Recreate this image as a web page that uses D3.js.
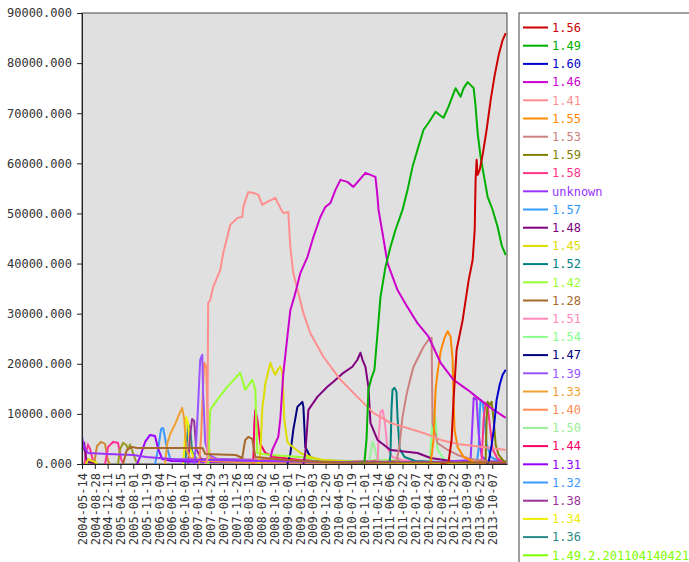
<!DOCTYPE html>
<html>
<head>
<meta charset="utf-8">
<script src="https://cdn.jsdelivr.net/npm/d3@7"></script>
<style>
  body { margin: 0; background: #fff; }
  text { font-family: "DejaVu Sans Mono", monospace; }
</style>
</head>
<body>
<div class="chart"></div>
<script>

// x positions are in "tick periods" (0 = 2004-05-14, one unit per label)
const tickLabels = ["2004-05-14","2004-08-28","2004-12-11","2005-04-15","2005-08-01","2005-11-19",
  "2006-03-04","2006-06-17","2006-10-01","2007-01-14","2007-04-29","2007-08-13","2007-11-26",
  "2008-03-18","2008-07-02","2008-10-16","2009-02-01","2009-05-17","2009-09-03","2009-12-20",
  "2010-04-05","2010-07-19","2010-11-01","2011-02-14","2011-06-06","2011-09-22","2012-01-07",
  "2012-04-24","2012-08-09","2012-11-22","2013-03-09","2013-06-23","2013-10-07"];
const yTicks = [0,10000,20000,30000,40000,50000,60000,70000,80000,90000];

const legendNames = ["1.56","1.49","1.60","1.46","1.41","1.55","1.53","1.59","1.58","unknown",
  "1.57","1.48","1.45","1.52","1.42","1.28","1.51","1.54","1.47","1.39","1.33","1.40","1.50",
  "1.44","1.31","1.32","1.38","1.34","1.36","1.49.2.201104140421"];

const v156 = [[27.97,0],[28.59,400],[28.83,4800],[28.98,12800],[29.22,22800],[29.69,28700],[30.16,36700],
  [30.47,40700],[30.63,46700],[30.70,56700],[30.78,60700],[30.86,57700],[31.02,58700],[31.25,61700],
  [31.56,66700],[31.88,72700],[32.19,77600],[32.50,81600],[32.81,84600],[33.05,86000]];
const v149 = [[21.56,0],[22.03,400],[22.19,4800],[22.34,14800],[22.58,17200],[22.81,18800],[23.05,26100],
  [23.28,33300],[23.67,39300],[24.06,43300],[24.45,46700],[25.00,50700],[25.39,54700],[25.78,59300],
  [26.17,62700],[26.64,66700],[27.03,68100],[27.58,70300],[27.97,69500],[28.20,69100],[28.59,71300],
  [29.14,75000],[29.53,73300],[29.77,75000],[30.08,76200],[30.55,75000],[30.70,71300],[30.86,66100],
  [31.09,61300],[31.64,53300],[32.03,50700],[32.42,47300],[32.73,43700],[33.05,41700]];
const v160 = [[31.56,0],[31.72,400],[31.95,3800],[32.11,6800],[32.34,12800],[32.58,15800],[32.81,17800],[33.05,18800]];
const v146 = [[14.69,1000],[14.84,2800],[15.31,5400],[15.47,9000],[15.70,18000],[16.02,25400],[16.25,30700],
  [16.64,34100],[17.03,38100],[17.58,41300],[18.05,45300],[18.59,49300],[18.98,51300],[19.38,52100],
  [19.77,54700],[20.16,56700],[20.70,56300],[21.17,55300],[22.11,58100],[22.50,57700],[22.89,57300],
  [23.05,53300],[23.13,50700],[23.44,46100],[23.83,40100],[24.61,34700],[25.39,31300],[26.17,28100],
  [27.03,25400],[27.97,20200],[28.98,16800],[30.08,14800],[30.86,13200],[31.88,11200],[33.05,9200]];
const v141 = [[9.61,0],[9.77,800],[9.84,32100],[10.00,32700],[10.23,35300],[10.78,38700],[11.02,42100],
  [11.33,45300],[11.56,47700],[12.11,49100],[12.50,49300],[12.58,51300],[12.97,54300],[13.36,54100],
  [13.75,53700],[14.06,51700],[14.45,52300],[15.08,53100],[15.47,51100],[15.70,50100],[16.09,50300],
  [16.25,43300],[16.48,38100],[16.88,34100],[17.27,30100],[17.81,26100],[18.83,21400],[20.16,16800],
  [21.48,13400],[22.73,10200],[24.06,8200],[26.64,6200],[27.97,4800],[29.30,4000],[31.88,3200],[33.05,2800]];
const v155 = [[27.19,0],[27.42,4800],[27.58,14800],[27.73,18200],[27.97,22400],[28.28,25200],[28.52,26500],
  [28.75,25400],[28.91,20800],[28.98,12800],[29.06,6800],[29.30,3400],[29.77,1400],[30.55,400],[31.48,200]];
const v153 = [[24.38,0],[24.53,400],[24.77,3800],[25.00,9400],[25.31,13800],[25.63,17200],[25.86,19400],
  [26.25,21400],[26.64,23400],[27.03,24800],[27.27,25200],[27.34,8200],[27.73,4200],[28.52,2800],
  [29.30,1800],[30.31,1000],[31.88,400]];
const v159 = [[31.25,0],[31.48,800],[31.56,8800],[31.64,12400],[31.80,11800],[31.95,12400],[32.11,8800],
  [32.27,3800],[32.50,1800],[32.81,800],[33.05,400]];
const v158 = [[30.94,0],[31.17,600],[31.33,9000],[31.48,12200],[31.64,11600],[31.80,8000],[32.03,3000],
  [32.42,1000],[33.05,400]];
const vUnknown = [[0,5400],[0.16,3400],[0.47,2200],[2.0,2000],[4.0,1800],[5.0,1400],[7.0,1000],[10,800],
  [14,600],[20,400],[28,400],[30.31,800],[30.47,9000],[30.55,13200],[30.78,12800],[30.94,6000],
  [31.17,1600],[31.56,600],[33.05,400]];
const v157 = [[30.78,0],[30.94,3000],[31.02,10000],[31.09,12800],[31.25,12400],[31.40,9000],[31.56,4000],
  [31.88,1400],[32.50,600],[33.05,400]];
const v148 = [[17.27,0],[17.42,2200],[17.66,10800],[18.36,13400],[19.14,15400],[19.61,16400],[20.39,18200],
  [21.09,19400],[21.48,20800],[21.72,22200],[21.88,20800],[22.11,19400],[22.34,15400],[22.50,8200],
  [23.05,4800],[24.06,2800],[26.17,2200],[27.19,1200],[29.30,400],[33.05,200]];
const v145 = [[13.75,0],[13.91,2000],[14.06,11000],[14.30,16000],[14.69,20200],[14.92,18600],[15.08,17800],
  [15.31,19000],[15.47,19400],[15.63,18200],[15.78,8800],[16.02,4400],[16.25,3800],[17.03,2200],
  [18.05,1200],[18.83,800],[21.0,400],[25,200],[33.05,100]];
const v152 = [[23.98,0],[24.06,2000],[24.14,10800],[24.22,14800],[24.38,15200],[24.53,14400],[24.61,9400],
  [24.77,3000],[25.16,1400],[26.0,600],[28,400],[33.05,200]];
const v142 = [[9.84,0],[10.00,10800],[10.55,12800],[11.33,15400],[12.34,18200],[12.73,14800],[13.28,16800],
  [13.52,14800],[13.67,2200],[14.69,1800],[17.03,1400],[18.59,800],[22,400],[33.05,200]];
const v128 = [[3.20,0],[3.50,2800],[3.90,3400],[4.30,3200],[9.40,3200],[9.60,2000],[12.0,1800],[12.5,1200],
  [12.73,4800],[12.97,5400],[13.28,5000],[13.52,1400],[16.0,800],[17.0,600],[20,300],[33.05,300]];
const v151 = [[23.05,0],[23.13,5000],[23.28,10400],[23.44,10800],[23.60,8800],[23.83,3000],[24.22,1400],
  [25,800],[27,400],[33.05,200]];
const v154 = [[27.11,0],[27.27,6000],[27.42,10800],[27.58,8800],[27.73,3000],[28.2,1000],[29,400],[33.05,200]];
const v147 = [[16.02,0],[16.25,2000],[16.48,6800],[16.80,11400],[17.19,12400],[17.27,11400],[17.42,3400],
  [17.81,1400],[18.83,400],[33.05,100]];
const v139 = [[8.75,0],[8.91,4400],[9.06,12000],[9.22,20800],[9.38,21800],[9.45,14000],[9.61,4400],
  [9.84,2000],[10.5,1000],[14,600],[33.05,200]];
const v133 = [[6.48,0],[6.64,4000],[6.88,6000],[7.27,8000],[7.66,10400],[7.81,11200],[7.97,9000],
  [8.13,3000],[8.44,1200],[9.5,600],[13,300],[33.05,200]];
const v140 = [[9.14,0],[9.30,6000],[9.45,16000],[9.53,20200],[9.69,19400],[9.77,12000],[9.84,4000],
  [10.0,1400],[11,800],[33.05,200]];
const v150 = [[22.34,0],[22.50,2000],[22.66,4400],[22.81,3400],[23.05,1000],[24,400],[33.05,200]];
const v144 = [[13.36,0],[13.44,8000],[13.52,10800],[13.67,9000],[13.91,4000],[14.30,2200],[15,1400],
  [17,800],[20,400],[33.05,200]];
const v131 = [[4.30,0],[4.53,1400],[4.92,4400],[5.31,5800],[5.70,5600],[5.94,3000],[6.25,1000],[7.0,600],
  [10,400],[33.05,200]];
const v132 = [[5.70,0],[5.94,3000],[6.17,7000],[6.33,7200],[6.56,4000],[6.88,1000],[8,600],[12,400],[33.05,200]];
const v138 = [[8.28,0],[8.44,6000],[8.59,9000],[8.75,8600],[8.91,3000],[9.3,1000],[33.05,200]];
const v134 = [[7.89,0],[8.05,6000],[8.13,9400],[8.28,8000],[8.44,3000],[8.75,1000],[10,400],[33.05,200]];
const v136 = [[8.05,0],[8.20,5000],[8.28,7800],[8.44,7200],[8.59,2400],[9.0,800],[33.05,200]];
const v1492 = [[21.5,0],[22.0,400],[23.0,800],[25,600],[28,300],[33.05,200]];

// older series that are drawn but not listed in the legend
const vOldA = [[0.2,0],[0.31,2400],[0.47,3800],[0.63,3000],[0.86,600],[1.0,0]];
const vOldB = [[0.94,0],[1.17,3600],[1.48,4400],[1.80,4000],[2.03,600],[2.2,0]];
const vOldC = [[1.8,0],[2.03,3400],[2.42,4400],[2.81,4200],[3.05,1000],[3.2,200]];
const vOldD = [[2.81,0],[2.97,3000],[3.20,4200],[3.45,3800],[3.59,3000],[3.75,3800],[3.98,2200],[4.2,600],[4.5,0]];
const vOldE = [[0,2400],[0.16,4400],[0.31,1200],[0.5,400],[1.0,200]];
const vOldF = [[0.3,0],[0.5,1000],[0.8,600],[1.2,200]];

const legendValues = [v156,v149,v160,v146,v141,v155,v153,v159,v158,vUnknown,v157,v148,v145,v152,v142,
  v128,v151,v154,v147,v139,v133,v140,v150,v144,v131,v132,v138,v134,v136,v1492];
const legendColors = ["#cc0000","#00b000","#0000cc","#cc00cc","#ff8f8f","#ff8800","#cc8080","#808000",
  "#ff3388","#9933ff","#3399ff","#800080","#dddd00","#008080","#99ff33","#a8682a","#ff88bb","#88ff88",
  "#000080","#9955ff","#f0a030","#ff8c55","#99ee99","#ff0066","#9900ff","#3d99ff","#993399","#eeee00",
  "#2a8a8a","#80ff00"];
const oldValues = [vOldA, vOldB, vOldC, vOldD, vOldE, vOldF];
const oldColors = ["#ff3399","#cc8833","#ff3399","#999922","#800080","#dddd00"];

const margin = ({top: 13, left: 82});
const w = 425, h = 451;

const svg = d3.select(".chart")
  .append("svg")
  .attr("width", 689)
  .attr("height", 562);

const g = svg.append("g")
  .attr("transform", `translate(${margin.left},${margin.top})`);

const xScale = d3.scaleLinear().domain([0, 33.15]).range([0, w]);
const yScale = d3.scaleLinear().domain([0, 90000]).range([h, 0]);

// plot background
g.append("rect")
  .attr("width", w)
  .attr("height", h)
  .attr("fill", "#e0e0e0")
  .attr("stroke", "#444");

g.append("clipPath").attr("id", "clip")
  .append("rect").attr("width", w).attr("height", h);

const line = d3.line()
  .x(d => xScale(d[0]))
  .y(d => yScale(d[1]));

const lines = g.append("g").attr("clip-path", "url(#clip)");

oldValues.forEach((vals, i) => {
  lines.append("path")
    .datum(vals)
    .attr("fill", "none")
    .attr("stroke", oldColors[i])
    .attr("stroke-width", 2)
    .attr("d", line);
});

// draw oldest entries first, newest on top; 1.28 keeps its baseline visible
const order = d3.range(legendNames.length).reverse().filter(i => legendNames[i] !== "1.28");
order.push(legendNames.indexOf("1.28"));
order.forEach(i => {
  lines.append("path")
    .datum(legendValues[i])
    .attr("fill", "none")
    .attr("stroke", legendColors[i])
    .attr("stroke-width", 2)
    .attr("stroke-linejoin", "round")
    .attr("d", line);
});

// axes
const yAxis = d3.axisLeft(yScale)
  .tickValues(yTicks)
  .tickFormat(d3.format(".3f"))
  .tickSize(5)
  .tickSizeOuter(0);

g.append("g")
  .attr("class", "axis y-axis")
  .call(yAxis)
  .call(ax => ax.selectAll("text").attr("font-size", 12).attr("fill", "#333").attr("x", -10))
  .call(ax => ax.selectAll("line, path").attr("stroke", "#222"));

const xAxis = d3.axisBottom(xScale)
  .tickValues(d3.range(tickLabels.length))
  .tickFormat(i => tickLabels[i])
  .tickSize(5)
  .tickSizeOuter(0);

g.append("g")
  .attr("class", "axis x-axis")
  .attr("transform", `translate(0,${h})`)
  .call(xAxis)
  .call(ax => ax.selectAll("line, path").attr("stroke", "#222"))
  .selectAll("text")
    .attr("font-size", 12)
    .attr("fill", "#333")
    .attr("transform", "rotate(-90)")
    .attr("text-anchor", "end")
    .attr("x", -9)
    .attr("y", 0)
    .attr("dy", "0.35em");

// legend
const legend = svg.append("g").attr("transform", "translate(519,13)");

legend.append("rect")
  .attr("width", 200)
  .attr("height", 600)
  .attr("fill", "#fff")
  .attr("stroke", "#444");

const items = legend.selectAll(".item")
  .data(legendNames)
  .enter().append("g")
  .attr("transform", (d, i) => `translate(0,${14.5 + i * 18.2})`);

items.append("line")
  .attr("x1", 4).attr("x2", 29)
  .attr("stroke", (d, i) => legendColors[i])
  .attr("stroke-width", 2);

items.append("text")
  .attr("x", 33)
  .attr("dy", "0.35em")
  .attr("font-size", 12)
  .attr("fill", (d, i) => legendColors[i])
  .text(d => d);

</script>
</body>
</html>
